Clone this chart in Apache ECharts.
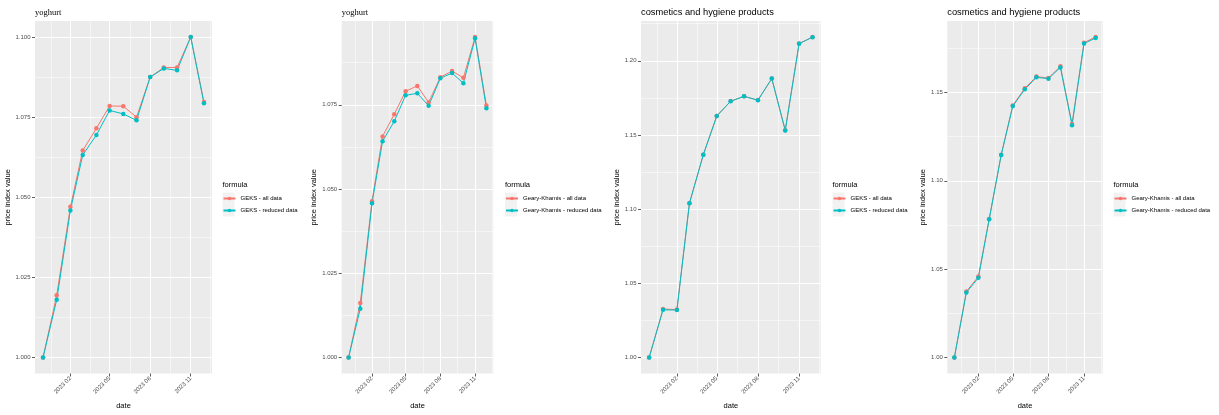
<!DOCTYPE html>
<html>
<head>
<meta charset="utf-8">
<script src="https://cdn.jsdelivr.net/npm/echarts@6/dist/echarts.min.js"></script>
<style>
  html, body { margin: 0; padding: 0; background: #ffffff; }
  #chart { width: 1219px; height: 415px; }
</style>
</head>
<body>
<div id="chart"></div>
<script>
// Monthly observation dates
const months = ['2022-12-01', '2023-01-01', '2023-02-01', '2023-03-01', '2023-04-01', '2023-05-01',
  '2023-06-01', '2023-07-01', '2023-08-01', '2023-09-01', '2023-10-01', '2023-11-01', '2023-12-01'];

// yoghurt – GEKS
const yoghurtGeksAll     = [1.0000, 1.0194, 1.0470, 1.0646, 1.0715, 1.0785, 1.0784, 1.0750, 1.0875, 1.0905, 1.0905, 1.1000, 1.0797];
const yoghurtGeksReduced = [1.0000, 1.0180, 1.0459, 1.0632, 1.0694, 1.0771, 1.0760, 1.0740, 1.0875, 1.0902, 1.0896, 1.1000, 1.0793];
// yoghurt – Geary-Khamis
const yoghurtGkAll       = [1.0000, 1.0162, 1.0464, 1.0656, 1.0722, 1.0790, 1.0806, 1.0757, 1.0832, 1.0850, 1.0830, 1.0951, 1.0748];
const yoghurtGkReduced   = [1.0000, 1.0145, 1.0458, 1.0642, 1.0701, 1.0778, 1.0784, 1.0747, 1.0829, 1.0844, 1.0814, 1.0947, 1.0740];
// cosmetics and hygiene products – GEKS
const cosmeticsGeksAll     = [1.0000, 1.0327, 1.0323, 1.1040, 1.1367, 1.1628, 1.1728, 1.1760, 1.1735, 1.1880, 1.1532, 1.2116, 1.2160];
const cosmeticsGeksReduced = [1.0000, 1.0321, 1.0320, 1.1040, 1.1367, 1.1627, 1.1727, 1.1760, 1.1734, 1.1880, 1.1530, 1.2115, 1.2159];
// cosmetics and hygiene products – Geary-Khamis
const cosmeticsGkAll       = [1.0000, 1.0374, 1.0458, 1.0784, 1.1148, 1.1427, 1.1524, 1.1590, 1.1582, 1.1648, 1.1322, 1.1782, 1.1814];
const cosmeticsGkReduced   = [1.0000, 1.0368, 1.0451, 1.0782, 1.1146, 1.1423, 1.1518, 1.1586, 1.1578, 1.1642, 1.1315, 1.1777, 1.1809];

// Axis breaks
const xBreaks = ['2023-02-01', '2023-05-01', '2023-08-01', '2023-11-01'];
const yBreaksYoghurtGeks   = [1.000, 1.025, 1.050, 1.075, 1.100];
const yBreaksYoghurtGk     = [1.000, 1.025, 1.050, 1.075];
const yBreaksCosmeticsGeks = [1.00, 1.05, 1.10, 1.15, 1.20];
const yBreaksCosmeticsGk   = [1.00, 1.05, 1.10, 1.15];

const legendGeks = ['GEKS - all data', 'GEKS - reduced data'];
const legendGk   = ['Geary-Khamis - all data', 'Geary-Khamis - reduced data'];

const COL_ALL = '#F8766D';
const COL_RED = '#00BFC4';
const SANS = 'Liberation Sans';
const SERIF = 'Liberation Serif';

const toTime = s => Date.parse(s + 'T00:00:00Z');

// 5% padding on each side of the data range
function expand(lo, hi) {
  const r = hi - lo;
  return [lo - 0.05 * r, hi + 0.05 * r];
}

// Minor breaks halfway between major breaks, extended one step past each end
function minorBreaks(br, lo, hi) {
  const b = br.filter(v => v >= lo && v <= hi);
  const step = b[1] - b[0];
  if (lo < b[0]) b.unshift(b[0] - step);
  if (hi > b[b.length - 1]) b.push(b[b.length - 1] + step);
  const out = [];
  for (let i = 0; i < b.length - 1; i++) out.push((b[i] + b[i + 1]) / 2);
  return out.filter(v => v > lo && v < hi);
}

const panels = [
  { title: 'yoghurt', titleFont: SERIF, titleSize: 8.5, names: legendGeks,
    all: yoghurtGeksAll, reduced: yoghurtGeksReduced, yBreaks: yBreaksYoghurtGeks, digits: 3,
    box: { left: 35, top: 21, width: 177, height: 355 }, yNameGap: 17.5, legendLeft: 222.5 },
  { title: 'yoghurt', titleFont: SERIF, titleSize: 8.5, names: legendGk,
    all: yoghurtGkAll, reduced: yoghurtGkReduced, yBreaks: yBreaksYoghurtGk, digits: 3,
    box: { left: 341.7, top: 21, width: 151.6, height: 355 }, yNameGap: 17.5, legendLeft: 505 },
  { title: 'cosmetics and hygiene products', titleFont: SANS, titleSize: 9.3, names: legendGeks,
    all: cosmeticsGeksAll, reduced: cosmeticsGeksReduced, yBreaks: yBreaksCosmeticsGeks, digits: 2,
    box: { left: 641, top: 21, width: 179.7, height: 355 }, yNameGap: 12, legendLeft: 832.5 },
  { title: 'cosmetics and hygiene products', titleFont: SANS, titleSize: 9.3, names: legendGk,
    all: cosmeticsGkAll, reduced: cosmeticsGkReduced, yBreaks: yBreaksCosmeticsGk, digits: 2,
    box: { left: 947.3, top: 21, width: 155.4, height: 355 }, yNameGap: 12.5, legendLeft: 1113.5 }
];

const xTimes = months.map(toTime);
const [xMin, xMax] = expand(xTimes[0], xTimes[xTimes.length - 1]);
const xMajor = xBreaks.map(toTime);
const xMinor = minorBreaks(xMajor, xMin, xMax);

const pad2 = n => (n < 10 ? '0' : '') + n;
const fmtMonth = v => { const d = new Date(v); return d.getUTCFullYear() + ' ' + pad2(d.getUTCMonth() + 1); };

const grid = [], xAxis = [], yAxis = [], series = [], legend = [], title = [], graphic = [];

panels.forEach((p, i) => {
  grid.push({
    left: p.box.left, top: p.box.top, width: p.box.width, height: p.box.height,
    show: true, backgroundColor: '#EBEBEB', borderWidth: 0, containLabel: false
  });

  const vals = p.all.concat(p.reduced);
  const [yMin, yMax] = expand(Math.min(...vals), Math.max(...vals));
  const yMinor = minorBreaks(p.yBreaks.slice(), yMin, yMax);

  // major x axis: labels, ticks, major grid
  xAxis.push({
    type: 'value', gridIndex: i, min: xMin, max: xMax,
    name: 'date', nameLocation: 'middle', nameGap: 24,
    nameTextStyle: { fontFamily: SANS, fontSize: 7.5, color: '#000000' },
    axisLine: { show: false },
    axisTick: { show: true, length: 3, customValues: xMajor, lineStyle: { color: '#333333', width: 0.8 } },
    axisLabel: { show: true, customValues: xMajor, rotate: 45, margin: 4, formatter: fmtMonth,
      fontFamily: SANS, fontSize: 6, color: '#4D4D4D' },
    splitLine: { show: true, lineStyle: { color: '#FFFFFF', width: 1 } }
  });
  // minor x grid
  xAxis.push({
    type: 'value', gridIndex: i, min: xMin, max: xMax,
    axisLine: { show: false },
    axisTick: { show: false, customValues: xMinor },
    axisLabel: { show: false, customValues: xMinor },
    splitLine: { show: true, lineStyle: { color: '#FFFFFF', width: 0.5 } }
  });

  yAxis.push({
    type: 'value', gridIndex: i, min: yMin, max: yMax,
    name: 'price index value', nameLocation: 'middle', nameRotate: 90, nameGap: p.yNameGap,
    nameTextStyle: { fontFamily: SANS, fontSize: 7.5, color: '#000000' },
    axisLine: { show: false },
    axisTick: { show: true, length: 3, customValues: p.yBreaks, lineStyle: { color: '#333333', width: 0.8 } },
    axisLabel: { show: true, customValues: p.yBreaks, margin: 4.5,
      formatter: v => v.toFixed(p.digits), fontFamily: SANS, fontSize: 6, color: '#4D4D4D' },
    splitLine: { show: true, lineStyle: { color: '#FFFFFF', width: 1 } }
  });
  yAxis.push({
    type: 'value', gridIndex: i, min: yMin, max: yMax,
    axisLine: { show: false },
    axisTick: { show: false, customValues: yMinor },
    axisLabel: { show: false, customValues: yMinor },
    splitLine: { show: true, lineStyle: { color: '#FFFFFF', width: 0.5 } }
  });

  [[p.all, COL_ALL, p.names[0]], [p.reduced, COL_RED, p.names[1]]].forEach(([arr, col, nm]) => {
    series.push({
      type: 'line', name: nm, xAxisIndex: 2 * i, yAxisIndex: 2 * i,
      data: arr.map((v, k) => [xTimes[k], v]),
      symbol: 'circle', symbolSize: 4.5, showSymbol: true,
      lineStyle: { color: col, width: 1 }, itemStyle: { color: col },
      emphasis: { disabled: true }, animation: false, z: 3
    });
  });

  legend.push({
    orient: 'vertical', left: p.legendLeft, top: 192.5, padding: 0,
    data: p.names, itemWidth: 12, itemHeight: 4.5, itemGap: 0,
    selectedMode: false,
    textStyle: { fontFamily: SANS, fontSize: 6, lineHeight: 12, color: '#000000' }
  });

  graphic.push({
    type: 'rect', left: p.legendLeft, top: 192.5, z: 1, silent: true,
    shape: { width: 12, height: 24 }, style: { fill: '#F2F2F2' }
  });
  graphic.push({
    type: 'text', left: p.legendLeft, top: 180.5, silent: true,
    style: { text: 'formula', font: '7.5px "' + SANS + '"', fill: '#000000' }
  });

  title.push({
    text: p.title, left: p.box.left, top: 8, padding: 0,
    textStyle: { fontFamily: p.titleFont, fontSize: p.titleSize, fontWeight: 'normal', color: '#000000' }
  });
});

const chart = echarts.init(document.getElementById('chart'), null, { renderer: 'canvas' });
chart.setOption({
  animation: false,
  backgroundColor: '#FFFFFF',
  title, grid, xAxis, yAxis, series, legend, graphic
});
</script>
</body>
</html>
